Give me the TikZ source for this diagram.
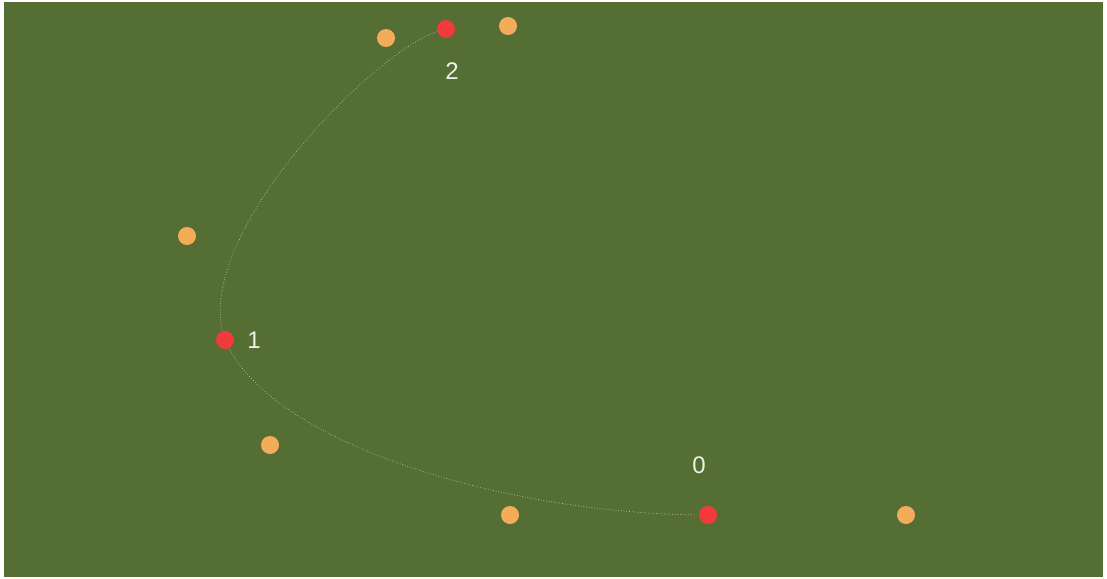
\documentclass[tikz,border=0pt]{standalone}
\usepackage{fontspec}
\setmainfont{Liberation Sans}
\definecolor{bggreen}{RGB}{84,110,52}
\definecolor{ptred}{RGB}{240,58,60}
\definecolor{ptorange}{RGB}{245,172,88}
\definecolor{lbl}{RGB}{238,242,230}
\begin{document}
\begin{tikzpicture}[x=1pt,y=-1pt,
  anchorpt/.style={circle,fill=ptred,inner sep=0pt,minimum size=18pt},
  handlept/.style={circle,fill=ptorange,inner sep=0pt,minimum size=18pt},
  ptlabel/.style={text=lbl,font=\fontsize{24}{24}\selectfont,inner sep=0pt},
  curveline/.style={draw=white,opacity=0.6,line width=0.7pt,dotted}]
\useasboundingbox (0,0) rectangle (1107,578);
\fill[white] (0,0) rectangle (1107,578);
\fill[bggreen] (4,2) rectangle (1103,577);
% coordinates
\coordinate (c0) at (708,515);
\coordinate (c1) at (225,340);
\coordinate (c2) at (446,29);
\coordinate (c0a) at (510,515);
\coordinate (c0b) at (906,515);
\coordinate (c1a) at (270,445);
\coordinate (c1b) at (187,236);
\coordinate (c2a) at (386,38);
\coordinate (c2b) at (508,26);
% curve
\draw[curveline] (c0) .. controls (c0a) and (c1a) .. (c1)
  .. controls (c1b) and (c2a) .. (c2);
% handle points
\node[handlept] (h0a) at (c0a) {};
\node[handlept] (h0b) at (c0b) {};
\node[handlept] (h1a) at (c1a) {};
\node[handlept] (h1b) at (c1b) {};
\node[handlept] (h2a) at (c2a) {};
\node[handlept] (h2b) at (c2b) {};
% anchor points
\node[anchorpt] (p0) at (c0) {};
\node[anchorpt] (p1) at (c1) {};
\node[anchorpt] (p2) at (c2) {};
% labels
\node[ptlabel] (l0) at (699,465) {0};
\node[ptlabel] (l1) at (254,340) {1};
\node[ptlabel] (l2) at (452,71) {2};
\end{tikzpicture}
\end{document}
